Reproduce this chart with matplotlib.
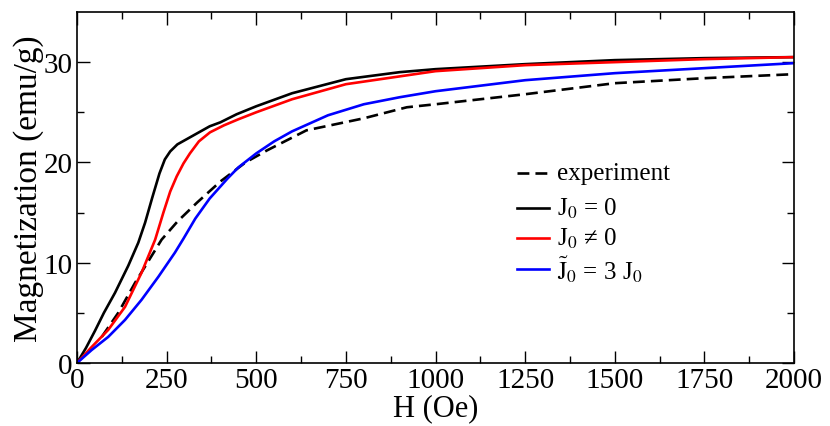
import numpy as np
import matplotlib
matplotlib.use("Agg")
import matplotlib.pyplot as plt
from matplotlib.lines import Line2D

plt.rcParams['font.family'] = ['Liberation Serif', 'DejaVu Serif']
plt.rcParams['mathtext.fontset'] = 'stix'

# experiment (dashed)
h_exp = [69, 115, 162, 236, 280, 335, 400, 470, 530, 640, 800, 920, 1000,
         1250, 1500, 1750, 2000]
m_exp = [2.6, 5.0, 8.0, 12.3, 14.1, 16.0, 18.1, 20.0, 21.2, 23.2, 24.4, 25.5,
         25.8, 26.8, 27.9, 28.4, 28.8]

# J0 = 0 (black)
h_j0 = [0, 25, 50, 75, 106, 143, 171, 190, 210, 230, 245, 260, 280, 305, 340,
        370, 400, 445, 500, 600, 750, 900, 1000, 1250, 1500, 1750, 2000]
m_j0 = [0, 1.5, 3.2, 5.0, 7.0, 9.7, 12.0, 14.0, 16.5, 18.9, 20.3, 21.1, 21.8,
        22.3, 23.0, 23.6, 24.0, 24.8, 25.6, 26.9, 28.3, 29.0, 29.3, 29.8, 30.2,
        30.4, 30.5]

# J0 != 0 (red)
h_j1 = [0, 41, 87, 134, 180, 218, 241, 260, 278, 297, 315, 340, 371, 410, 450,
        500, 600, 750, 1000, 1250, 1500, 1750, 2000]
m_j1 = [0, 1.6, 3.3, 5.6, 9.0, 12.3, 15.0, 17.1, 18.6, 19.9, 20.9, 22.1, 23.0,
        23.7, 24.3, 25.0, 26.3, 27.8, 29.1, 29.7, 30.0, 30.3, 30.5]

# J0~ = 3 J0 (blue)
h_j3 = [0, 41, 87, 134, 180, 227, 273, 297, 330, 370, 420, 450, 500, 550, 600,
        700, 800, 900, 1000, 1250, 1500, 1750, 2000]
m_j3 = [0, 1.3, 2.6, 4.3, 6.3, 8.6, 11.0, 12.4, 14.4, 16.4, 18.4, 19.5, 20.9,
        22.1, 23.1, 24.7, 25.8, 26.5, 27.1, 28.2, 28.9, 29.4, 29.9]

fig = plt.figure(figsize=(8.3, 4.27), dpi=100)
ax = fig.add_axes([77/830, 63/427, 717/830, 351/427])

lw = 1.9
dash = (4.5, 2.3)
ax.plot(h_exp, m_exp, color='black', lw=lw, dashes=dash)
ax.plot(h_j0, m_j0, color='black', lw=lw)
ax.plot(h_j1, m_j1, color='red', lw=lw)
ax.plot(h_j3, m_j3, color='blue', lw=lw)

ax.set_xlim(0, 2000)
ax.set_ylim(0, 35)
ax.set_xticks(np.arange(0, 2001, 250))
ax.set_xticks(np.arange(0, 2001, 125), minor=True)
ax.set_yticks([0, 10, 20, 30])
ax.set_yticks([5, 15, 25], minor=True)
ax.tick_params(which='both', direction='in', top=True, right=True,
               labelsize=21, width=1.0)
ax.tick_params(axis='x', pad=3)
ax.tick_params(axis='y', pad=3)
ax.tick_params(which='major', length=9)
ax.tick_params(which='minor', length=5)
for s in ax.spines.values():
    s.set_linewidth(1.2)

ax.set_xlabel('H (Oe)', fontsize=22, labelpad=0)
ax.set_ylabel('Magnetization (emu/g)', fontsize=24, labelpad=0)

# legend drawn by hand to keep the uneven spacing
entries = [
    (dict(color='black', dashes=dash), 'experiment', 174),
    (dict(color='black'), r'J$_0$ = 0', 209),
    (dict(color='red'), r'J$_0$ ≠ 0', 239),
    (dict(color='blue'), r'$\tilde{\mathrm{J}}_0$ = 3 J$_0$', 270),
]
for style, label, ypix in entries:
    yf = 1 - ypix / 427
    fig.add_artist(Line2D([517/830, 549/830], [yf, yf], lw=lw,
                          transform=fig.transFigure, **style))
    fig.text(557/830, yf, label, fontsize=18, va='center', ha='left')

fig.savefig('out.png', dpi=100)
